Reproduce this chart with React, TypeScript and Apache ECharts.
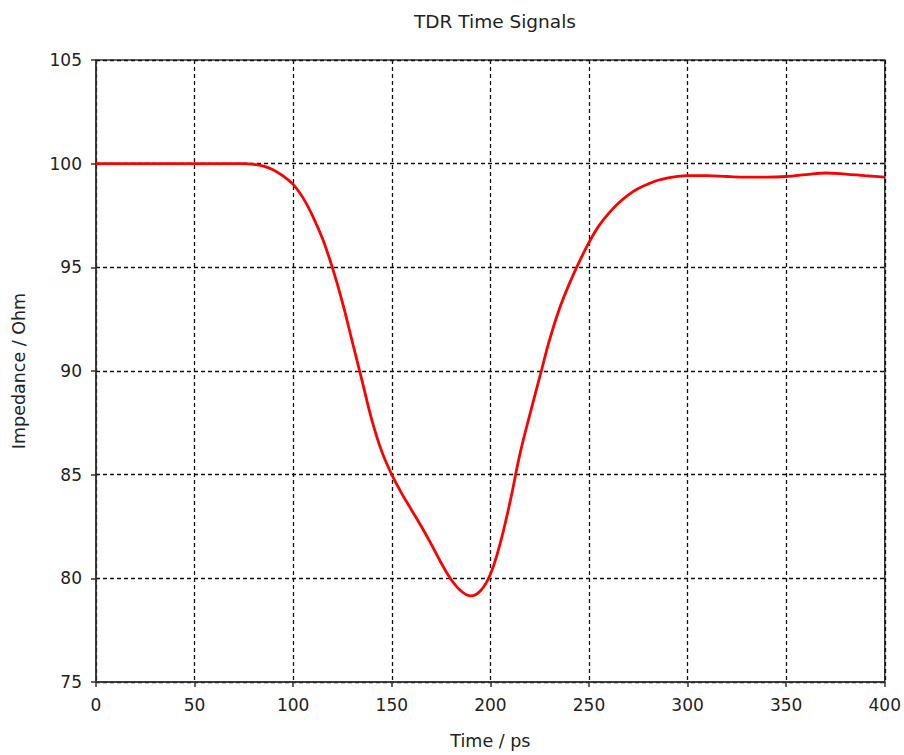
import React, { useEffect, useRef } from "react";
import * as echarts from "echarts";

const chartTitle = "TDR Time Signals";
const xAxisName = "Time / ps";
const yAxisName = "Impedance / Ohm";

const timePs = [
  0, 10, 20, 30, 40, 50, 60, 70, 75, 80, 85, 90, 95, 100, 105, 110, 115, 120, 125, 130,
  135, 140, 145, 150, 155, 160, 165, 170, 175, 180, 185, 190, 195, 200, 205, 210, 215,
  220, 225, 230, 235, 240, 245, 250, 255, 260, 265, 270, 275, 280, 285, 290, 295, 300,
  310, 320, 330, 340, 350, 360, 370, 380, 390, 400,
];
const impedanceOhm = [
  100, 100, 100, 100, 100, 100, 100, 100, 100, 99.97, 99.88, 99.7, 99.4, 99.0, 98.35,
  97.45, 96.35, 94.95, 93.3, 91.4, 89.5, 87.6, 86.1, 85.0, 84.1, 83.3, 82.5, 81.65,
  80.75, 79.95, 79.4, 79.15, 79.4, 80.2, 81.7, 83.7, 86.0, 87.9, 89.7, 91.5, 93.0, 94.2,
  95.25, 96.2, 97.0, 97.6, 98.1, 98.5, 98.8, 99.02, 99.2, 99.32, 99.39, 99.42, 99.42,
  99.38, 99.35, 99.35, 99.38, 99.47, 99.55, 99.5, 99.42, 99.35,
];

const xMin = 0;
const xMax = 400;
const xStep = 50;
const yMin = 75;
const yMax = 105;
const yStep = 5;

const FONT = "DejaVu Sans";

export default function App() {
  const ref = useRef<HTMLDivElement>(null);

  useEffect(() => {
    if (!ref.current) return;
    const chart = echarts.init(ref.current, null, { renderer: "svg" });
    const data = timePs.map((t, i) => [t, impedanceOhm[i]]);
    chart.setOption({
      animation: false,
      backgroundColor: "#ffffff",
      title: {
        text: chartTitle,
        left: 490,
        top: 7,
        textAlign: "center",
        textStyle: { fontFamily: FONT, fontSize: 18.5, fontWeight: "normal", color: "#222" },
      },
      grid: {
        left: 96,
        top: 60,
        right: 18,
        bottom: 73,
        show: true,
        borderColor: "#333",
        borderWidth: 1.5,
        backgroundColor: "transparent",
      },
      xAxis: {
        type: "value",
        min: xMin,
        max: xMax,
        interval: xStep,
        name: xAxisName,
        nameLocation: "middle",
        nameGap: 50,
        nameTextStyle: { fontFamily: FONT, fontSize: 17.5, color: "#222" },
        axisLine: { show: true, lineStyle: { color: "#333", width: 1.5 } },
        axisTick: { show: true, length: 5, lineStyle: { color: "#333", width: 1.5 } },
        axisLabel: { fontFamily: FONT, fontSize: 17, color: "#222", margin: 14 },
        splitLine: { show: true, lineStyle: { color: "#111", type: [4, 3], width: 1.3 } },
      },
      yAxis: {
        type: "value",
        min: yMin,
        max: yMax,
        interval: yStep,
        name: yAxisName,
        nameLocation: "middle",
        nameGap: 68,
        nameTextStyle: { fontFamily: FONT, fontSize: 17.5, color: "#222" },
        axisLine: { show: true, lineStyle: { color: "#333", width: 1.5 } },
        axisTick: { show: true, length: 5, lineStyle: { color: "#333", width: 1.5 } },
        axisLabel: { fontFamily: FONT, fontSize: 17, color: "#222", margin: 14 },
        splitLine: { show: true, lineStyle: { color: "#111", type: [4, 3], width: 1.3 } },
      },
      series: [
        {
          type: "line",
          data,
          smooth: 0.4,
          showSymbol: false,
          lineStyle: { color: "#ff0000", width: 2.8 },
          itemStyle: { color: "#ff0000" },
        },
      ],
    });
    return () => chart.dispose();
  }, []);

  return (
    <div
      ref={ref}
      style={{ position: "fixed", left: 0, top: 0, width: 904, height: 755 }}
    />
  );
}
